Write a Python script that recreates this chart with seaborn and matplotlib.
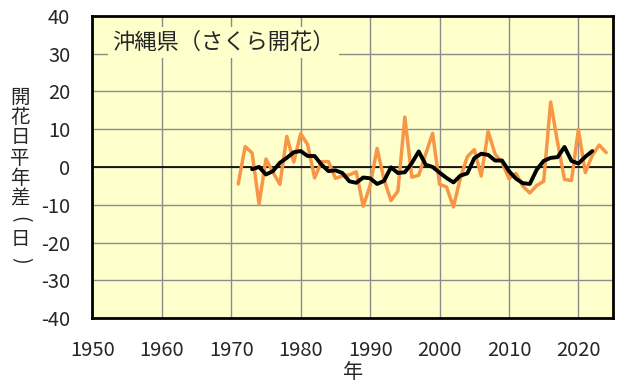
import matplotlib
matplotlib.use("Agg")
import matplotlib.pyplot as plt
import seaborn as sns
import pandas as pd

years = list(range(1971, 2025))
anomaly = [-4.5, 5.4, 3.7, -9.8, 2.1, -1.4, -4.6, 8.1, 1.3, 8.8,
           5.9, -2.9, 1.4, 1.4, -3.0, -2.4, -2.1, -1.3, -10.4, -4.9,
           4.9, -3.3, -8.9, -6.4, 13.2, -2.7, -2.2, 3.4, 8.9, -4.6,
           -5.3, -10.6, -2.9, 2.7, 4.6, -2.4, 9.4, 3.4, 1.2, -3.1,
           -1.7, -5.1, -6.9, -4.9, -3.8, 17.2, 6.5, -3.3, -3.6, 9.9,
           -1.5, 3.1, 5.8, 3.8]

ma_years = list(range(1973, 2023))
moving_avg = [-0.6, 0.0, -2.0, -1.1, 1.1, 2.4, 3.9, 4.2, 2.9, 2.9,
              0.6, -1.1, -0.9, -1.6, -3.8, -4.2, -2.8, -3.0, -4.5, -3.7,
              -0.1, -1.6, -1.4, 1.0, 4.1, 0.6, 0.0, -1.5, -2.9, -4.1,
              -2.3, -1.7, 2.3, 3.5, 3.2, 1.7, 1.7, -1.1, -3.1, -4.3,
              -4.5, -0.7, 1.6, 2.4, 2.6, 5.3, 1.6, 0.9, 2.7, 4.2]

x_ticks = [1950, 1960, 1970, 1980, 1990, 2000, 2010, 2020]
y_ticks = [-40, -30, -20, -10, 0, 10, 20, 30, 40]
title = "沖縄県（さくら開花）"
ylabel_chars = ["開", "花", "日", "平", "年", "差", "(", "日", ")"]
xlabel = "年"

sns.set_style("white")
plt.rcParams["font.family"] = ["Noto Sans CJK JP", "DejaVu Sans"]
plt.rcParams["axes.unicode_minus"] = False

df1 = pd.DataFrame({"year": years, "value": anomaly})
df2 = pd.DataFrame({"year": ma_years, "value": moving_avg})

W, H = 642, 386
fig = plt.figure(figsize=(W / 100, H / 100), dpi=100)
ax = fig.add_axes([0.144, 0.176, 0.811, 0.783])
ax.set_facecolor("#FFFFCC")

sns.lineplot(data=df1, x="year", y="value", ax=ax, color="#F79646", linewidth=2.5)
sns.lineplot(data=df2, x="year", y="value", ax=ax, color="black", linewidth=2.8)

ax.set_xlim(1950, 2025)
ax.set_ylim(-40, 40)
ax.set_xticks(x_ticks)
ax.set_yticks(y_ticks)
ax.grid(True, color="#8C8C8C", linewidth=1.0)
ax.set_axisbelow(True)
ax.axhline(0, color="black", linewidth=1.2, zorder=1.5)
for s in ax.spines.values():
    s.set_color("black")
    s.set_linewidth(2.0)
ax.tick_params(axis="both", length=0, labelsize=14.5)
ax.tick_params(axis="y", pad=16)
ax.tick_params(axis="x", pad=16)
ax.set_xlabel("")
ax.set_ylabel("")

fig.text(0.5 * (0.144 + 0.955), 1 - 373 / H, xlabel, fontsize=14.5,
         ha="center", va="center")

ax.text(0.0375, 0.911, title, transform=ax.transAxes, fontsize=16,
        ha="left", va="center",
        bbox=dict(facecolor="#FFFFCC", edgecolor="none", pad=3))

# vertical y-axis label, one character per row
y0 = 97
step = 20.4
for i, ch in enumerate(ylabel_chars):
    ypix = y0 + i * step
    rot = 270 if ch in ("(", ")") else 0
    fig.text(20 / W, 1 - ypix / H, ch, fontsize=14, ha="center", va="center",
             rotation=rot)

fig.savefig("out.png", dpi=100)
